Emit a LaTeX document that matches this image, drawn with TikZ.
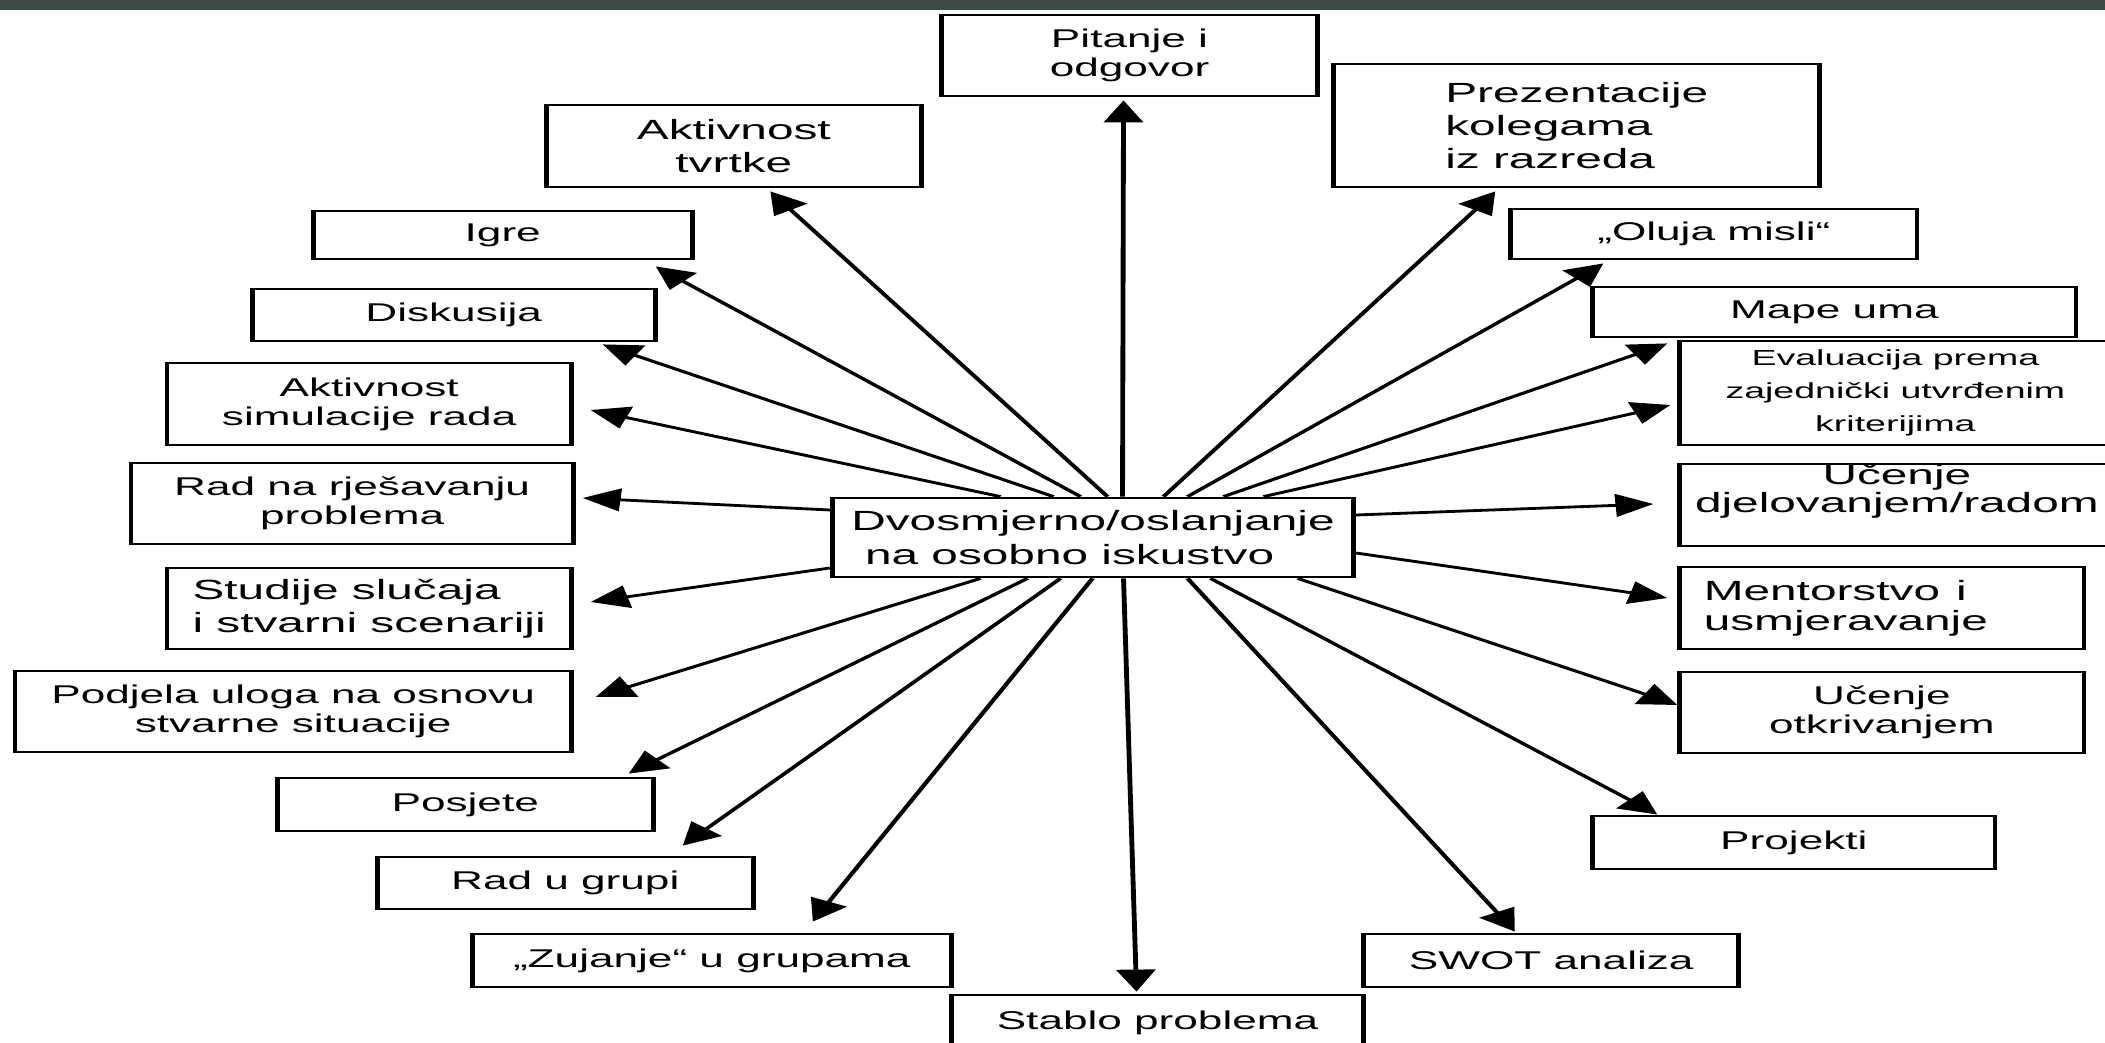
\documentclass[tikz,border=0pt]{standalone}
\usepackage{fontspec}
\newfontfamily\boxfont{Liberation Sans}
\usetikzlibrary{arrows.meta,calc}
\definecolor{stripgray}{RGB}{62,74,71}

\begin{document}
\begin{tikzpicture}[x=0.01cm,y=-0.01cm,
    box/.style={draw,line width=0.8pt,inner sep=0pt,align=center,
      font=\boxfont\fontsize{7.3pt}{8.3pt}\selectfont},
    big/.style={font=\boxfont\fontsize{7.9pt}{9.4pt}\selectfont},
    sz/.style 2 args={minimum width=#1*0.005814cm,minimum height=#2*0.01cm},
    spoke/.style={-{Triangle[length=0.22cm,width=0.225cm]},line width=0.8pt}]
  \useasboundingbox (0,0) rectangle (2105,1043);
  \clip (0,0) rectangle (2105,1043);
  \fill[white] (0,0) rectangle (2105,1043);
  \fill[stripgray] (0,0) rectangle (2105,10);
  \begin{scope}[x=0.005814cm,transform canvas={xscale=1.72}]
    \node[box,sz={521}{79},align=left,font=\boxfont\fontsize{7.9pt}{9.7pt}\selectfont] (hub) at (1092.5,537.5)
      {Dvosmjerno/oslanjanje\\\hspace*{0.08cm}na osobno iskustvo};
    \node[box,sz={376}{81}] (pitanje) at (1129,55.5) {Pitanje i\\odgovor};
    \node[box,big,sz={375}{82}] (tvrtke) at (733.5,146) {Aktivnost\\tvrtke};
    \node[box,sz={379}{48}] (igre) at (502.5,235) {Igre};
    \node[box,sz={403}{52}] (diskusija) at (453.5,315) {Diskusija};
    \node[box,sz={404}{82}] (simulacija) at (369,404) {Aktivnost\\simulacije rada};
    \node[box,sz={442}{81}] (rjesavanje) at (352,503.5) {Rad na rješavanju\\problema};
    \node[box,big,sz={404}{81},align=left] (studije) at (369,608.5) {Studije slučaja\\i stvarni scenariji};
    \node[box,sz={556}{81}] (podjela) at (293,711.5) {Podjela uloga na osnovu\\stvarne situacije};
    \node[box,sz={376}{53}] (posjete) at (465,804.5) {Posjete};
    \node[box,sz={376}{52}] (grupa) at (565,883) {Rad u grupi};
    \node[box,sz={479}{53}] (zujanje) at (711.5,960.5) {„Zujanje“ u grupama};
    \node[box,sz={412}{55}] (stablo) at (1157,1022.5) {Stablo problema};
    \node[box,sz={375}{53}] (swot) at (1550.5,960.5) {SWOT analiza};
    \node[box,sz={402}{53}] (projekti) at (1793,842.5) {Projekti};
    \node[box,sz={404}{81}] (otkrivanje) at (1881,712.5) {Učenje\\otkrivanjem};
    \node[box,sz={404}{82},align=left,text width=2.07cm,
      font=\boxfont\fontsize{7.9pt}{8.5pt}\selectfont] (mentorstvo) at (1881,608) {Mentorstvo i\\usmjeravanje};
    \node[box,sz={434}{82},label={[align=center,yshift=0.14cm,
      font=\boxfont\fontsize{7.9pt}{8pt}\selectfont]center:{Učenje\\djelovanjem/radom}}] (djelovanje) at (1896,505) {};
    \node[box,sz={431}{104},font=\boxfont\fontsize{6.2pt}{9.4pt}\selectfont] (evaluacija) at (1894.5,393)
      {Evaluacija prema\\zajednički utvrđenim\\kriterijima};
    \node[box,sz={483}{50}] (mape) at (1833.5,312) {Mape uma};
    \node[box,sz={406}{50}] (oluja) at (1713,234) {„Oluja misli“};
    \node[box,big,sz={486}{123},align=left] (prezentacije) at (1576,125.5) {Prezentacije\\kolegama\\iz razreda};
    \path[spoke]
      ($(hub.north)+(29.5,0)$)   edge ($(pitanje.south)+(-6,3)$)
      ($(hub.north)+(14.5,0)$)   edge ($(tvrtke.south)+(36.5,3)$)
      ($(hub.north)+(-12.5,0)$)  edge ($(igre.south east)+(-39,6)$)
      ($(hub.north)+(-39.5,0)$)  edge ($(diskusija.south east)+(-55,2)$)
      ($(hub.north)+(-92.5,0)$)  edge ($(simulacija.east)+(17,6)$)
      ($(hub.west)+(0,-27.5)$)   edge ($(rjesavanje.east)+(7,-5.5)$)
      ($(hub.west)+(0,30.5)$)    edge ($(studije.east)+(17,-6.5)$)
      ($(hub.south)+(-112.5,0)$) edge ($(podjela.east)+(22,-14.5)$)
      ($(hub.south)+(-65.5,0)$)  edge ($(posjete.north east)+(-27,-3)$)
      ($(hub.south)+(-32.5,0)$)  edge ($(grupa.north east)+(-73,-10)$)
      ($(hub.south)+(-0.5,0)$)   edge ($(zujanje.north east)+(-141,-11)$)
      ($(hub.south)+(30.5,0)$)   edge ($(stablo.north)+(-21,-2)$)
      ($(hub.south)+(94.5,0)$)   edge ($(swot.north)+(-36.5,-1)$)
      ($(hub.south)+(117.5,0)$)  edge ($(projekti.north west)+(67,0)$)
      ($(hub.south)+(204.5,0)$)  edge ($(otkrivanje.west)+(0,-7.5)$)
      ($(hub.east)+(0,15.5)$)    edge ($(mentorstvo.west)+(-10,-10)$)
      ($(hub.east)+(0,-22.5)$)   edge ($(djelovanje.west)+(-24,-1)$)
      ($(hub.north)+(170.5,0)$)  edge ($(evaluacija.west)+(-7,12)$)
      ($(hub.north)+(130.5,0)$)  edge ($(mape.south west)+(77,5)$)
      ($(hub.north)+(94.5,0)$)   edge ($(oluja.south west)+(95,3)$)
      ($(hub.north)+(70.5,0)$)   edge ($(prezentacije.south west)+(164,3)$);
  \end{scope}
\end{tikzpicture}
\end{document}
